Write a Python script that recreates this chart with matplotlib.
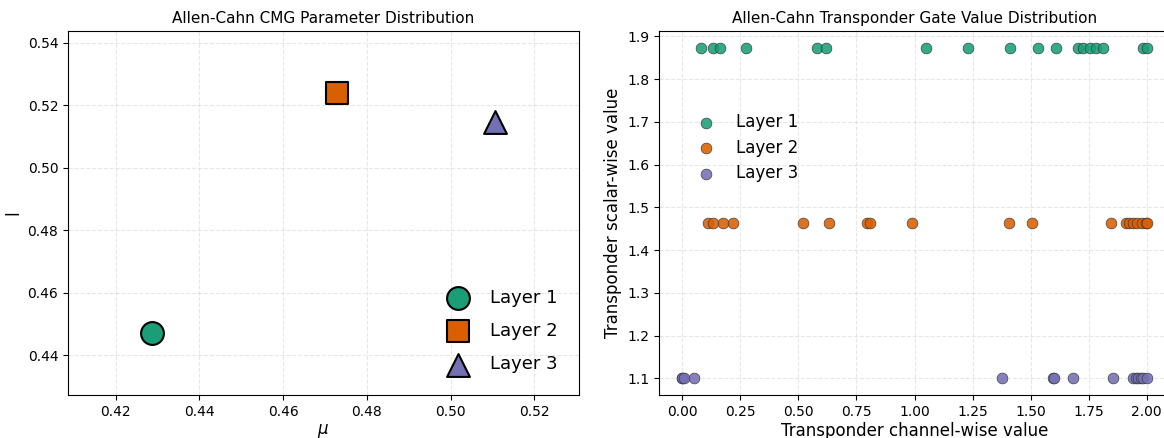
import matplotlib
matplotlib.use("Agg")
import matplotlib.pyplot as plt
import numpy as np

layers = ["Layer 1", "Layer 2", "Layer 3"]
colors = ["#1b9e77", "#d95f02", "#7570b3"]
markers = ["o", "s", "^"]

# Left panel: CMG parameters
mu_vals = [0.4286, 0.4729, 0.5107]
l_vals = [0.4472, 0.5238, 0.5147]

# Right panel: transponder gate values
chan_l1 = [0.079, 0.131, 0.164, 0.273, 0.581, 0.619, 1.050, 1.229, 1.411,
           1.533, 1.609, 1.705, 1.727, 1.756, 1.781, 1.813, 1.983, 2.0]
chan_l2 = [0.112, 0.131, 0.177, 0.220, 0.521, 0.632, 0.797, 0.808, 0.988,
           1.408, 1.505, 1.845, 1.911, 1.925, 1.942, 1.960, 1.978, 1.997, 2.0]
chan_l3 = [0.0, 0.0, 0.007, 0.05, 1.376, 1.598, 1.602, 1.684, 1.856, 1.939,
           1.954, 1.964, 1.974, 1.985, 2.0]
scalar_vals = [1.874, 1.4626, 1.10]

fig = plt.figure(figsize=(11.64, 4.38), dpi=100)
ax1 = fig.add_axes([68/1164, 1-395/438, 511/1164, 364/438])
ax2 = fig.add_axes([659/1164, 1-395/438, 511/1164, 364/438])

for i in range(3):
    ax1.scatter([mu_vals[i]], [l_vals[i]], s=270, c=colors[i], marker=markers[i],
                edgecolors="black", linewidths=1.5, label=layers[i], zorder=3)
ax1.set_xlim(min(mu_vals) - 0.02, max(mu_vals) + 0.02)
ax1.set_ylim(min(l_vals) - 0.02, max(l_vals) + 0.02)
ax1.set_xlabel(r"$\mu$", fontsize=12, labelpad=2)
ax1.set_ylabel("l", fontsize=12)
ax1.set_title("Allen-Cahn CMG Parameter Distribution", fontsize=11)
ax1.grid(True, linestyle="--", alpha=0.3)
ax1.legend(loc="lower right", bbox_to_anchor=(0.99, 0.015), fontsize=13,
           frameon=False, labelspacing=0.85)

chans = [chan_l1, chan_l2, chan_l3]
for i in range(3):
    ax2.scatter(chans[i], [scalar_vals[i]] * len(chans[i]), s=60, c=colors[i],
                alpha=0.88, edgecolors="#333333", linewidths=0.5,
                label=layers[i], zorder=3)
ax2.set_xlim(-0.1, 2.1)
ax2.set_xticks(np.arange(0, 2.01, 0.25))
ax2.set_xlabel("Transponder channel-wise value", fontsize=12, labelpad=2)
ax2.set_ylabel("Transponder scalar-wise value", fontsize=12)
ax2.set_title("Allen-Cahn Transponder Gate Value Distribution", fontsize=11)
ax2.grid(True, linestyle="--", alpha=0.3)
ax2.legend(loc="upper left", bbox_to_anchor=(0.03, 0.815), fontsize=12,
           frameon=False, labelspacing=0.45)

fig.savefig("out.png", dpi=100)
